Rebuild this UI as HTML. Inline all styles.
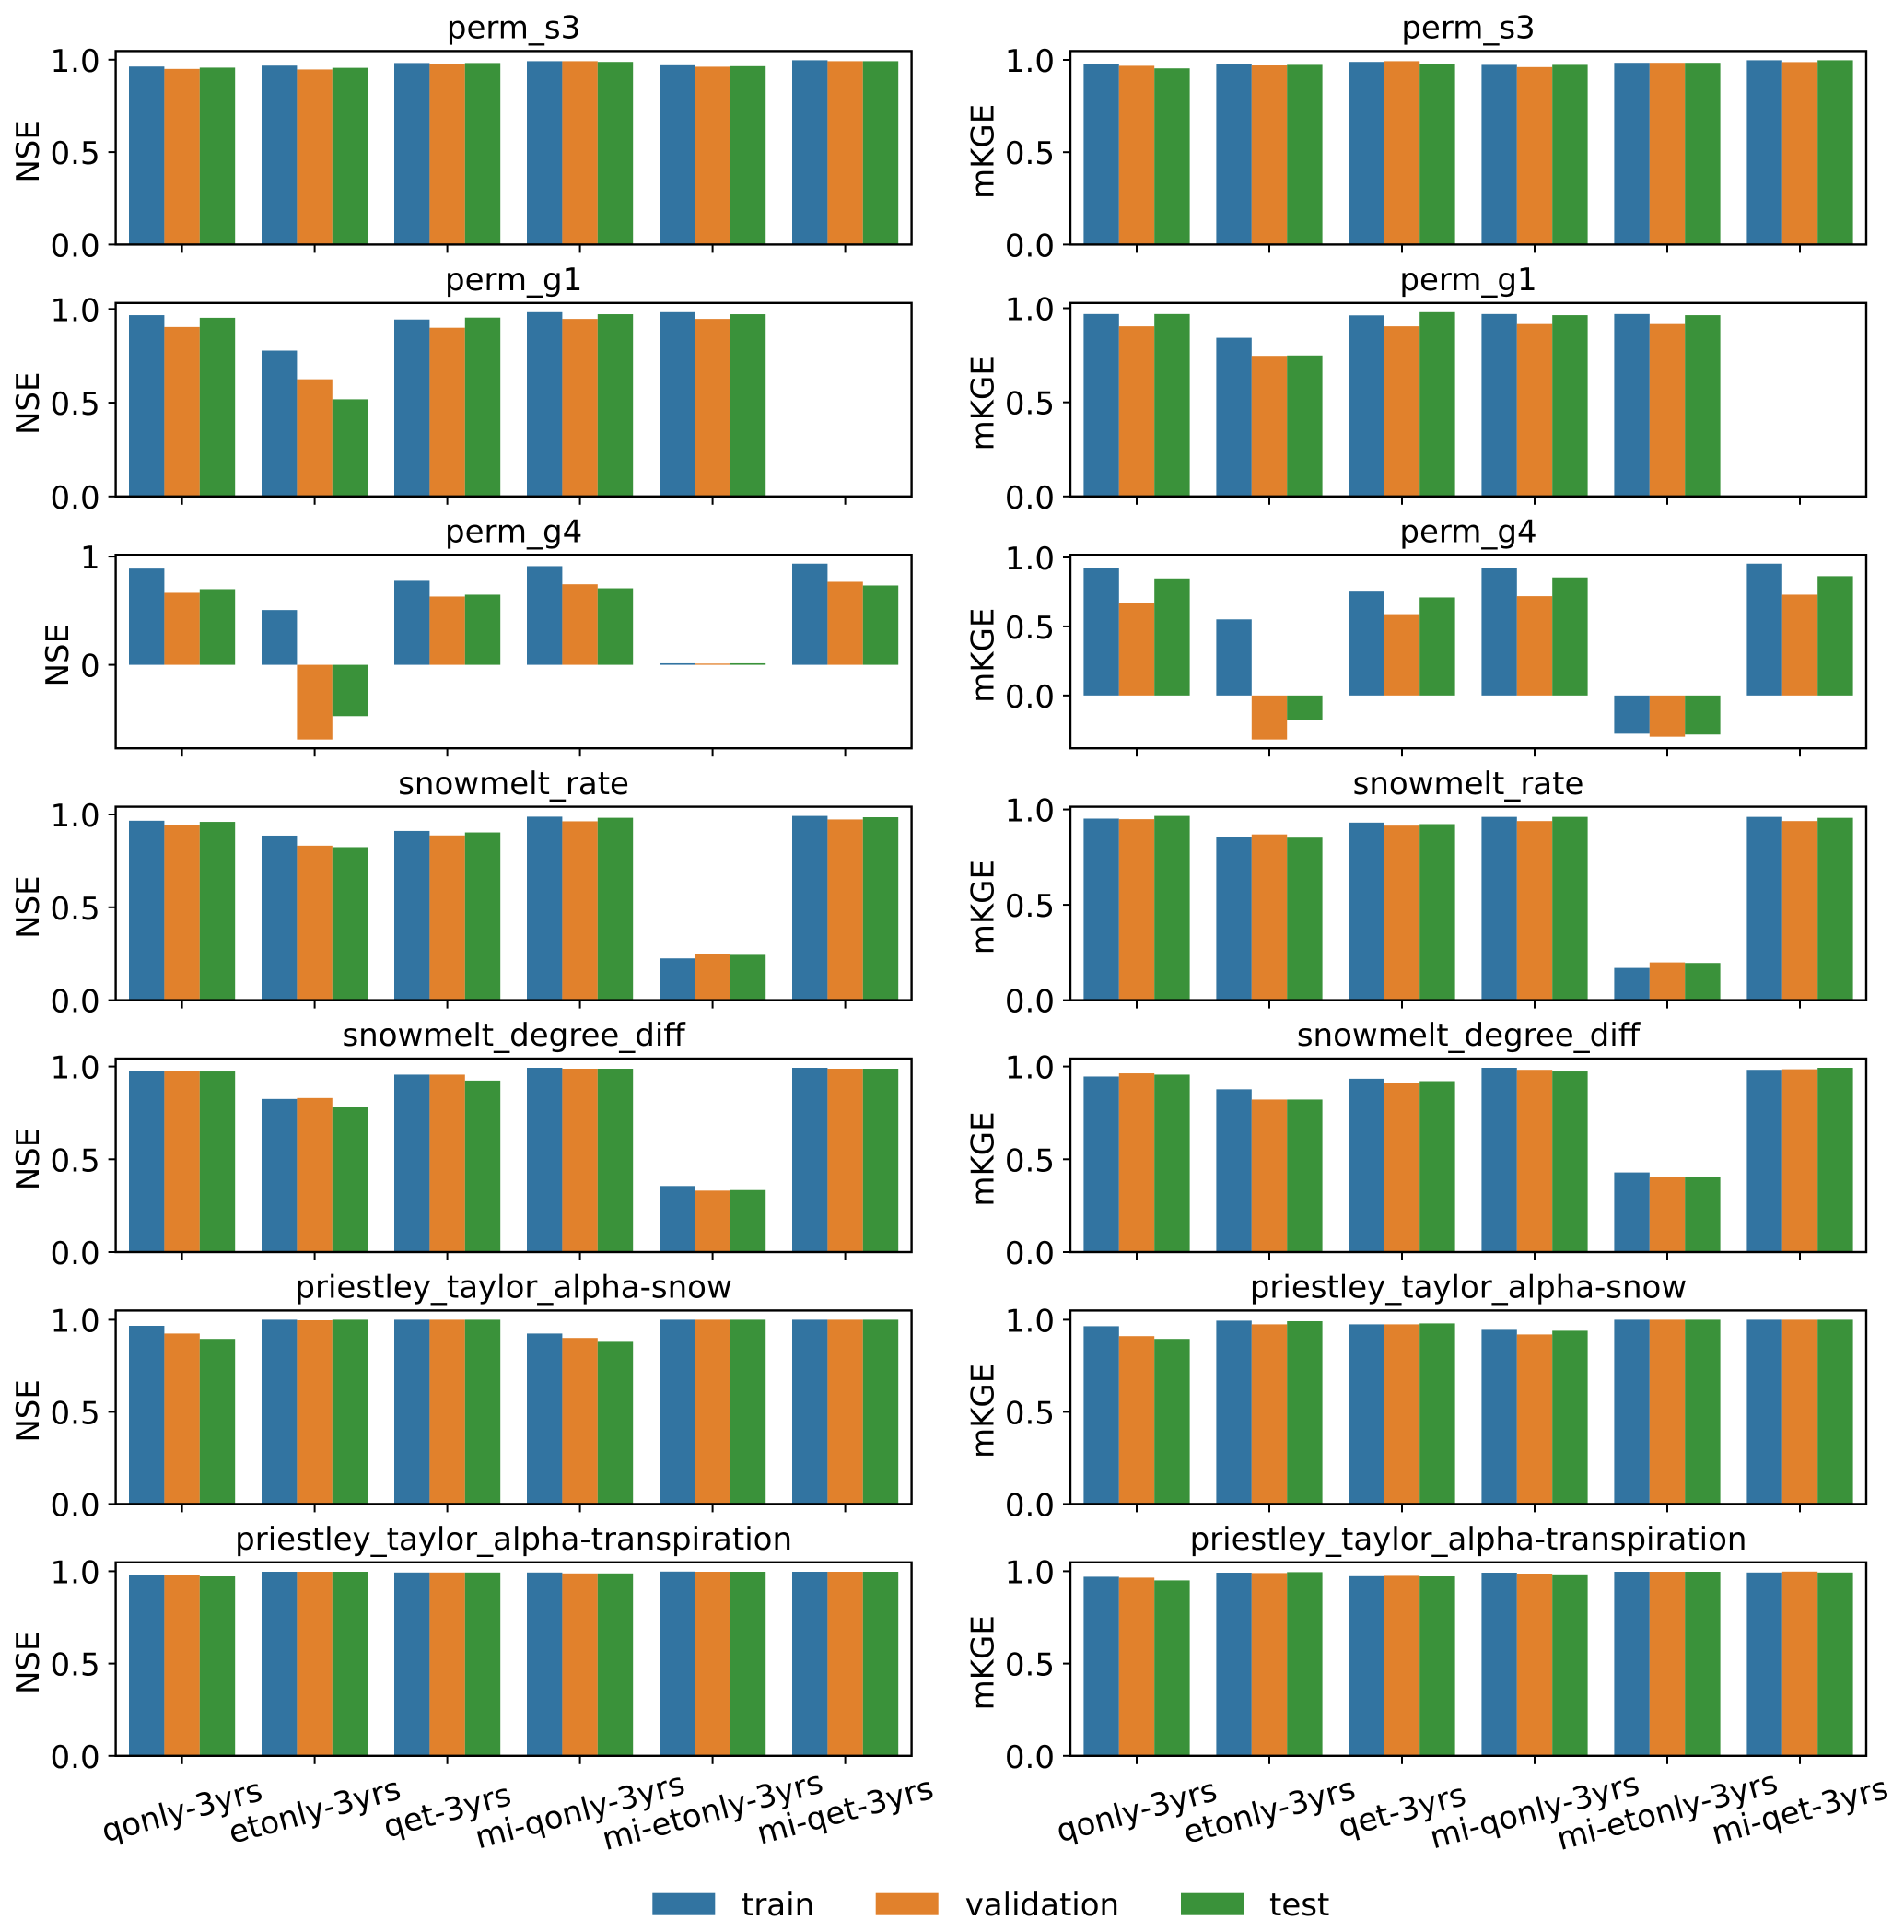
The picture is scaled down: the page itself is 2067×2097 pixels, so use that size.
<!DOCTYPE html>
<html lang="en">
<head>
<meta charset="utf-8">
<title>NSE and mKGE by parameter and model</title>
<style>
html,body{margin:0;padding:0;background:#fff;width:2067px;height:2097px;overflow:hidden}
svg{display:block}
text{font-family:"DejaVu Sans","Liberation Sans",sans-serif;font-size:34px;fill:#000;text-rendering:geometricPrecision}
</style>
</head>
<body>
<svg id="chart" xmlns="http://www.w3.org/2000/svg" width="2067" height="2097" viewBox="0 0 2067 2097"></svg>
<script>
const categories = ['qonly-3yrs','etonly-3yrs','qet-3yrs','mi-qonly-3yrs','mi-etonly-3yrs','mi-qet-3yrs'];
const parameters = ['perm_s3','perm_g1','perm_g4','snowmelt_rate','snowmelt_degree_diff','priestley_taylor_alpha-snow','priestley_taylor_alpha-transpiration'];
const seriesNames = ['train','validation','test'];
const seriesColors = ['#3274a1','#e1812c','#3a923a'];
const metricNames = ['NSE','mKGE'];

const nseTrain = [
  [.963,.968,.982,.992,.970,.997],
  [.967,.778,.944,.983,.983,null],
  [.889,.506,.776,.912,.014,.935],
  [.966,.886,.911,.988,.225,.992],
  [.976,.825,.956,.993,.356,.993],
  [.967,1.0,1.0,.925,1.0,1.0],
  [.982,.997,.993,.993,.998,.997]
];
const nseValidation = [
  [.950,.947,.975,.992,.962,.992],
  [.904,.625,.900,.947,.947,null],
  [.665,-.690,.631,.744,.011,.767],
  [.943,.832,.887,.963,.250,.973],
  [.978,.830,.956,.988,.331,.988],
  [.925,.997,1.0,.901,1.0,1.0],
  [.978,.997,.993,.988,.997,.997]
];
const nseTest = [
  [.957,.956,.982,.988,.965,.992],
  [.953,.518,.954,.972,.972,null],
  [.699,-.474,.648,.707,.014,.733],
  [.960,.824,.903,.982,.244,.985],
  [.973,.783,.924,.988,.334,.988],
  [.896,1.0,1.0,.880,1.0,1.0],
  [.972,.997,.993,.988,.997,.997]
];
const kgeTrain = [
  [.977,.977,.989,.973,.984,.998],
  [.969,.843,.962,.969,.969,null],
  [.926,.551,.752,.926,-.277,.955],
  [.952,.857,.931,.961,.169,.961],
  [.946,.877,.934,.993,.429,.982],
  [.965,.995,.975,.945,1.0,1.0],
  [.970,.992,.973,.992,.997,.993]
];
const kgeValidation = [
  [.968,.970,.993,.961,.984,.988],
  [.904,.747,.904,.916,.916,null],
  [.670,-.319,.589,.719,-.299,.730],
  [.949,.869,.915,.939,.198,.939],
  [.963,.822,.913,.982,.403,.985],
  [.911,.975,.975,.920,1.0,1.0],
  [.965,.990,.975,.987,.997,.998]
];
const kgeTest = [
  [.954,.973,.977,.973,.984,.998],
  [.969,.749,.979,.963,.963,null],
  [.848,-.179,.710,.855,-.283,.864],
  [.966,.852,.923,.961,.195,.956],
  [.956,.822,.921,.973,.405,.993],
  [.896,.992,.980,.940,1.0,1.0],
  [.950,.995,.972,.983,.997,.993]
];
const tickValues = [0,0.5,1];
const tickLabels = ['0.0','0.5','1.0'];
const tickValuesNseG4 = [0,1];
const tickLabelsNseG4 = ['0','1'];

const svg = document.getElementById('chart');
const NS = 'http://www.w3.org/2000/svg';
const AX_W = 864, AX_H = 210, TOP0 = 55.4, PITCH = 273.4;
const COL_LEFT = [125.6, 1162];
const metricSeries = [[nseTrain,nseValidation,nseTest],[kgeTrain,kgeValidation,kgeTest]];
const GROUP_W = 0.8, TICK_LEN = 8;

function make(tag, attrs, parent){
  const n = document.createElementNS(NS, tag);
  for (const k in attrs) n.setAttribute(k, attrs[k]);
  (parent || svg).appendChild(n);
  return n;
}
function kebab(s){ return s.toLowerCase().replace(/[^a-z0-9]+/g,'-'); }

function yLimits(series, row){
  const vals = [0];
  series.forEach(s => s[row].forEach(v => { if (v !== null) vals.push(v); }));
  const lo = Math.min.apply(null, vals), hi = Math.max.apply(null, vals);
  const span = hi - lo;
  return [lo < 0 ? lo - 0.05*span : 0, hi > 0 ? hi + 0.05*span : 0];
}

metricNames.forEach((metric, col) => {
  const series = metricSeries[col];
  const left = COL_LEFT[col];
  parameters.forEach((param, row) => {
    const top = TOP0 + row*PITCH;
    const bottom = top + AX_H;
    const lim = yLimits(series, row);
    const yScale = v => bottom - (v - lim[0])/(lim[1]-lim[0])*AX_H;
    const xScale = c => left + (c + 0.5)/categories.length*AX_W;
    const bandW = AX_W/categories.length;
    const barW = bandW*GROUP_W/seriesNames.length;
    const slug = kebab(param)+'-'+kebab(metric);

    const g = make('g', {});
    
    

    const title = make('text', {x:left+AX_W/2, y:top-13.8, 'text-anchor':'middle'}, g);
    title.textContent = param;
    
    

    series.forEach((values, s) => {
      values[row].forEach((v, c) => {
        if (v === null) return;
        const x = xScale(c) + (s - (seriesNames.length-1)/2)*barW - barW/2;
        const y0 = yScale(0), y1 = yScale(v);
        const bar = make('rect', {x:x, y:Math.min(y0,y1), width:barW, height:Math.abs(y1-y0), fill:seriesColors[s]}, g);
        
        
      });
    });

    const isNseG4 = (param === 'perm_g4' && metric === 'NSE');
    const tv = isNseG4 ? tickValuesNseG4 : tickValues;
    const tl = isNseG4 ? tickLabelsNseG4 : tickLabels;
    tv.forEach((v, i) => {
      const y = yScale(v);
      const t = make('line', {x1:left-TICK_LEN, x2:left, y1:y, y2:y, stroke:'#000', 'stroke-width':2}, g);
      
      
      const lab = make('text', {x:left-17, y:y+13, 'text-anchor':'end'}, g);
      lab.textContent = tl[i];
      
      
    });

    categories.forEach((cat, c) => {
      const x = xScale(c);
      const t = make('line', {x1:x, x2:x, y1:bottom, y2:bottom+TICK_LEN+1, stroke:'#000', 'stroke-width':2}, g);
      
      
      if (row === parameters.length-1){
        const cy = bottom + 60;
        const lab = make('text', {x:x, y:cy+11, 'text-anchor':'middle', transform:'rotate(-15 '+x+' '+cy+')'}, g);
        lab.textContent = cat;
        
        
      }
    });

    const lx = left - (isNseG4 ? 64 : 96) + 12.4;
    const ly = top + AX_H/2 + 4;
    const yl = make('text', {x:lx, y:ly, 'text-anchor':'middle', transform:'rotate(-90 '+lx+' '+ly+')'}, g);
    yl.textContent = metric;
    
    

    const frame = make('rect', {x:left, y:top, width:AX_W, height:AX_H, fill:'none', stroke:'#000', 'stroke-width':2.4}, g);
    
    
  });
});

const legendSwatchX = [708.3, 950.7, 1282];
const legendTextX = [805, 1047.7, 1378];
const legend = make('g', {});


seriesNames.forEach((name, i) => {
  const sw = make('rect', {x:legendSwatchX[i], y:2054.7, width:68, height:24, fill:seriesColors[i]}, legend);
  
  
  const tx = make('text', {x:legendTextX[i], y:2079}, legend);
  tx.textContent = name;
  
  
});
</script>
</body>
</html>
